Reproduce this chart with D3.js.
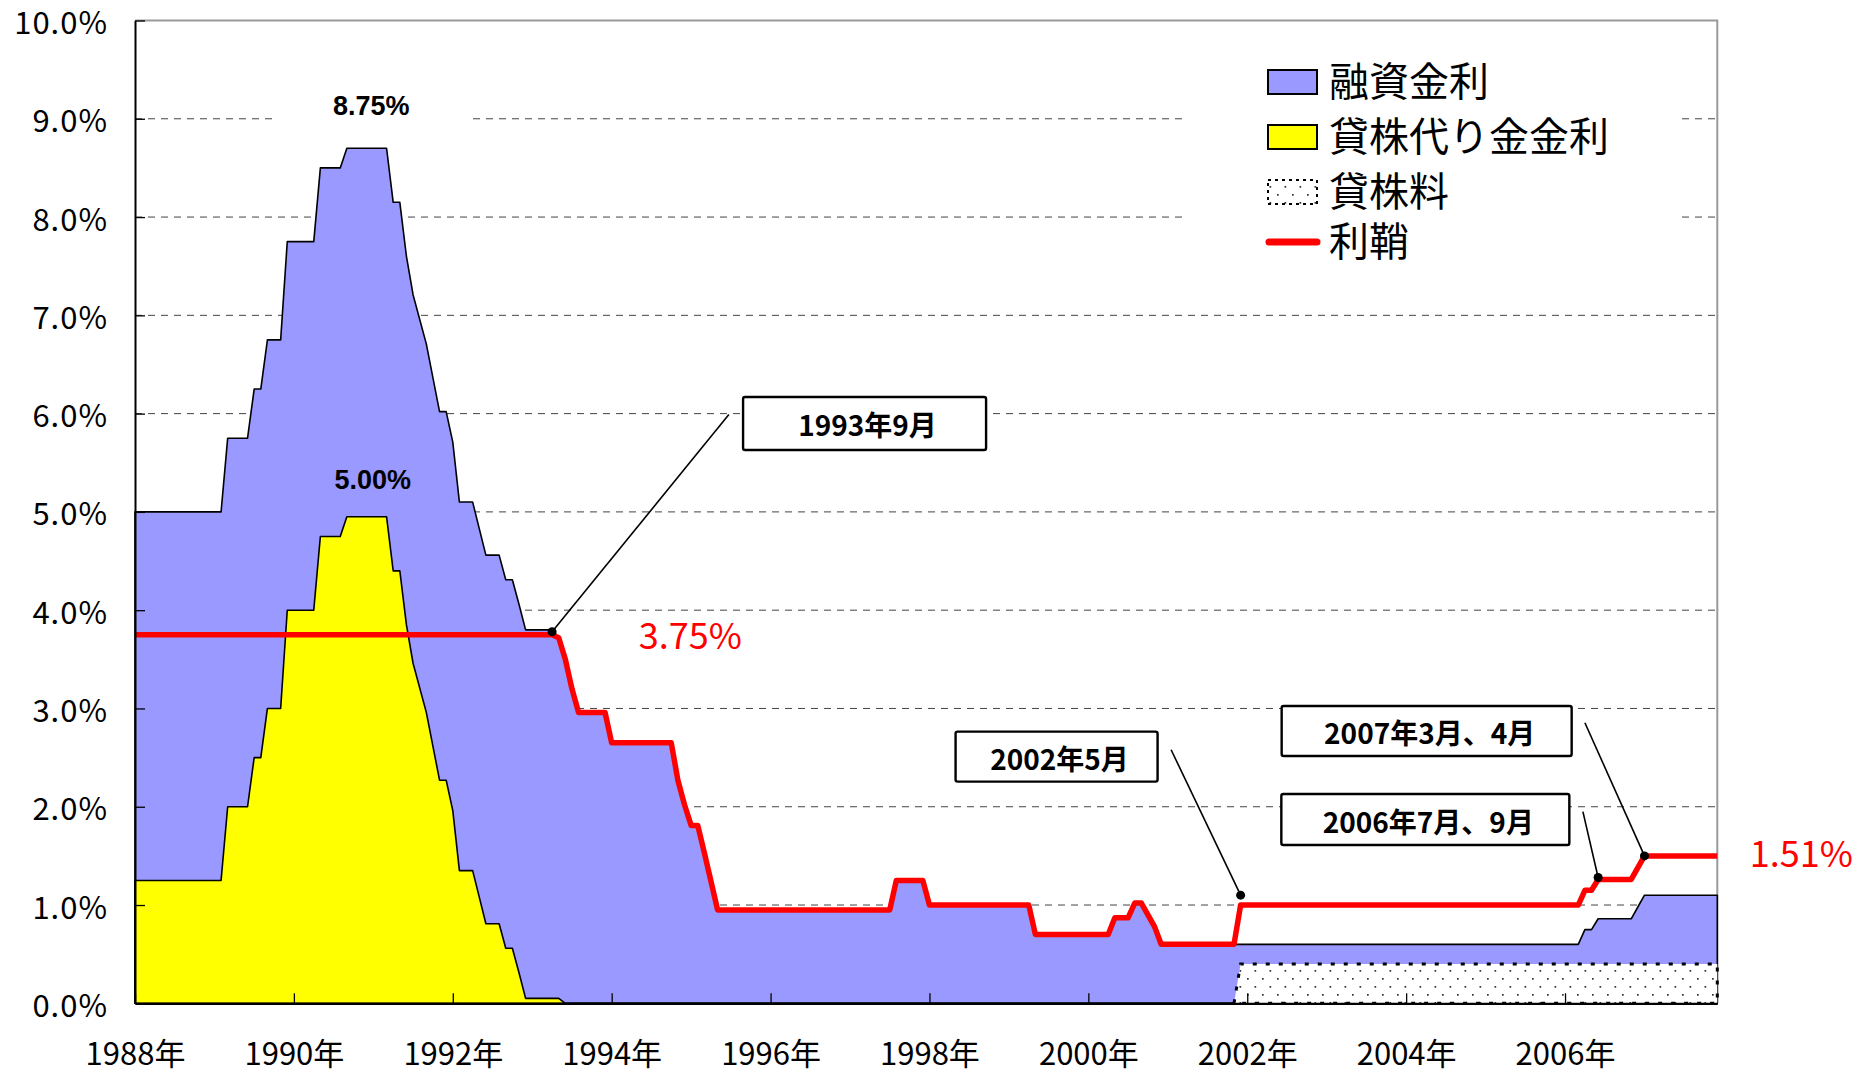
<!DOCTYPE html>
<html><head><meta charset="utf-8">
<script src="https://cdn.jsdelivr.net/npm/d3@7"></script>
<style>body{margin:0;background:#fff;} svg{display:block;}</style>
</head><body>
<svg id="chart" width="1858" height="1070"></svg>
<script>
// ---------------- data ----------------
const seriesNames = ["融資金利", "貸株代り金金利", "貸株料", "利鞘"];
const yearTickDates = ["1988-01","1990-01","1992-01","1994-01","1996-01","1998-01","2000-01","2002-01","2004-01","2006-01"];
const yearTickLabels = ["1988年","1990年","1992年","1994年","1996年","1998年","2000年","2002年","2004年","2006年"];
const yTicks = [0,1,2,3,4,5,6,7,8,9,10];

// 融資金利 (margin loan rate)
const loanDates = ["1988-01","1989-02","1989-03","1989-06","1989-07","1989-08","1989-09","1989-11","1989-12",
  "1990-04","1990-05","1990-08","1990-09","1991-03","1991-04","1991-05","1991-06","1991-07","1991-09",
  "1991-11","1991-12","1992-01","1992-02","1992-04","1992-05","1992-06","1992-08","1992-09","1992-10",
  "1992-11","1992-12","1993-04","1993-05","1993-06","1993-07","1993-08","1993-12","1994-01","1994-10",
  "1994-11","1994-12","1995-01","1995-02","1995-03","1995-04","1995-05","1997-07","1997-08","1997-12",
  "1998-01","1999-04","1999-05","2000-04","2000-05","2000-07","2000-08","2000-09","2000-11","2000-12",
  "2006-03","2006-04","2006-05","2006-06","2006-11","2006-12","2007-01","2007-12"];
const loanRates = [5.00,5.00,5.75,5.75,6.25,6.25,6.75,6.75,7.75,
  7.75,8.50,8.50,8.70,8.70,8.15,8.15,7.60,7.21,6.71,
  6.02,6.02,5.71,5.10,5.10,4.83,4.56,4.56,4.31,4.31,
  4.06,3.80,3.80,3.72,3.50,3.20,2.96,2.96,2.65,2.65,
  2.27,2.02,1.81,1.81,1.53,1.24,0.95,0.95,1.25,1.25,
  1.00,1.00,0.70,0.70,0.87,0.87,1.02,1.02,0.78,0.60,
  0.60,0.75,0.75,0.86,0.86,0.98,1.10,1.10];

// 貸株代り金金利 (interest on stock-loan proceeds)
const proceedsDates = ["1988-01","1989-02","1989-03","1989-06","1989-07","1989-08","1989-09","1989-11","1989-12",
  "1990-04","1990-05","1990-08","1990-09","1991-03","1991-04","1991-05","1991-06","1991-07","1991-09",
  "1991-11","1991-12","1992-01","1992-02","1992-04","1992-05","1992-06","1992-08","1992-09","1992-10",
  "1992-11","1992-12","1993-05","1993-06","2007-12"];
const proceedsRates = [1.25,1.25,2.00,2.00,2.50,2.50,3.00,3.00,4.00,
  4.00,4.75,4.75,4.95,4.95,4.40,4.40,3.85,3.46,2.96,
  2.27,2.27,1.96,1.35,1.35,1.08,0.81,0.81,0.56,0.56,
  0.31,0.05,0.05,0.00,0.00];

// 貸株料 (stock lending fee)
const feeDates = ["2001-11","2001-12","2007-12"];
const feeRates = [0.00,0.40,0.40];

// 利鞘 (spread)
const spreadDates = ["1988-01","1993-04","1993-05","1993-06","1993-07","1993-08","1993-12","1994-01","1994-10",
  "1994-11","1994-12","1995-01","1995-02","1995-03","1995-04","1995-05","1997-07","1997-08","1997-12",
  "1998-01","1999-04","1999-05","2000-04","2000-05","2000-07","2000-08","2000-09","2000-11","2000-12",
  "2001-11","2001-12","2006-03","2006-04","2006-05","2006-06","2006-11","2006-12","2007-01","2007-12"];
const spreadRates = [3.75,3.75,3.72,3.50,3.20,2.96,2.96,2.65,2.65,
  2.27,2.02,1.81,1.81,1.53,1.24,0.95,0.95,1.25,1.25,
  1.00,1.00,0.70,0.70,0.87,0.87,1.02,1.02,0.78,0.60,
  0.60,1.00,1.00,1.15,1.15,1.26,1.26,1.38,1.50,1.50];

// annotations
const calloutLabels = ["1993年9月","2002年5月","2006年7月、9月","2007年3月、4月"];
const calloutDates = ["1993-04","2001-12","2006-06","2007-01"];
const calloutValues = [3.78,1.10,1.28,1.50];
const valueLabels = ["8.75%","5.00%","3.75%","1.51%"];

// ---------------- helpers ----------------
const parseMonth = s => { const [yy, mm] = s.split("-").map(Number); return (yy - 1988) * 12 + (mm - 1); };
const toPts = (dates, vals) => dates.map((d, i) => ({ m: parseMonth(d), v: vals[i] }));
const JP = "'Noto Sans CJK JP','Noto Sans CJK SC',sans-serif";

const svg = d3.select("#chart");
const x = d3.scaleLinear().domain([0, 239]).range([135, 1717.3]);
const y = d3.scaleLinear().domain([0, 10]).range([1003.3, 20.5]);

// pattern for 貸株料
const defs = svg.append("defs");
const pat = defs.append("pattern").attr("id", "dots").attr("patternUnits", "userSpaceOnUse")
  .attr("width", 15).attr("height", 16);
pat.append("rect").attr("width", 15).attr("height", 16).attr("fill", "#fff");
pat.append("rect").attr("x", 2).attr("y", 2).attr("width", 1.7).attr("height", 1.7).attr("fill", "#333");
pat.append("rect").attr("x", 9.5).attr("y", 10).attr("width", 1.7).attr("height", 1.7).attr("fill", "#333");

// gridlines
svg.append("g").selectAll("line").data(yTicks.filter(t => t > 0 && t < 10)).join("line")
  .attr("x1", x(0)).attr("x2", x(239)).attr("y1", d => y(d)).attr("y2", d => y(d))
  .attr("stroke", "#444").attr("stroke-width", 1).attr("stroke-dasharray", "7,6");

// frame (top/right, gray)
svg.append("path")
  .attr("d", `M${x(0)},${y(10)}H${x(239)}V${y(0)}`)
  .attr("fill", "none").attr("stroke", "#999").attr("stroke-width", 2);

const area = d3.area().x(d => x(d.m)).y0(y(0)).y1(d => y(d.v));
const line = d3.line().x(d => x(d.m)).y(d => y(d.v));

// 融資金利 area
svg.append("path").datum(toPts(loanDates, loanRates)).attr("d", area)
  .attr("fill", "#9999FF").attr("stroke", "#000").attr("stroke-width", 1.6).attr("stroke-linejoin", "round");
// 貸株代り金金利 area
svg.append("path").datum(toPts(proceedsDates, proceedsRates)).attr("d", area)
  .attr("fill", "#FFFF00").attr("stroke", "#000").attr("stroke-width", 1.6).attr("stroke-linejoin", "round");
// 貸株料 area
svg.append("path").datum(toPts(feeDates, feeRates)).attr("d", area)
  .attr("fill", "url(#dots)").attr("stroke", "#000").attr("stroke-width", 3).attr("stroke-dasharray", "4,9");

// 利鞘 line
svg.append("path").datum(toPts(spreadDates, spreadRates)).attr("d", line)
  .attr("fill", "none").attr("stroke", "#FF0000").attr("stroke-width", 5.5).attr("stroke-linejoin", "round");

// axes
const yAxis = d3.axisLeft(y).tickValues(yTicks).tickSizeInner(-10).tickSizeOuter(0).tickPadding(27)
  .tickFormat(d => d.toFixed(1) + "%");
const gy = svg.append("g").attr("transform", `translate(${x(0)},0)`).call(yAxis);
gy.select(".domain").attr("stroke", "#000").attr("stroke-width", 2);
gy.selectAll(".tick line").attr("stroke", "#000").attr("stroke-width", 1.3);
gy.selectAll(".tick text").attr("font-family", JP).attr("font-size", 31).attr("fill", "#000")
  .attr("letter-spacing", 1).attr("dy", "0.42em");

const xAxis = d3.axisBottom(x).tickValues(yearTickDates.map(parseMonth)).tickSizeInner(-10).tickSizeOuter(0)
  .tickPadding(40).tickFormat((d, i) => yearTickLabels[i]);
const gx = svg.append("g").attr("transform", `translate(0,${y(0)})`).call(xAxis);
gx.select(".domain").attr("stroke", "#000").attr("stroke-width", 2.2);
gx.selectAll(".tick line").attr("stroke", "#000").attr("stroke-width", 1.3);
gx.selectAll(".tick text").attr("font-family", JP).attr("font-size", 31).attr("fill", "#000").attr("dy", "0.71em");

// peak labels (8.75% with white backing)
const pk1x = x(35.7), pk1y = y(9.04);
svg.append("rect").attr("x", pk1x - 97).attr("y", pk1y - 32).attr("width", 198).attr("height", 46).attr("fill", "#fff");
svg.append("text").attr("x", pk1x).attr("y", pk1y).attr("text-anchor", "middle")
  .attr("font-family", "'Liberation Sans',Arial,sans-serif").attr("font-weight", "bold").attr("font-size", 27)
  .text(valueLabels[0]);
svg.append("text").attr("x", x(35.9)).attr("y", y(5.23)).attr("text-anchor", "middle")
  .attr("font-family", "'Liberation Sans',Arial,sans-serif").attr("font-weight", "bold").attr("font-size", 27)
  .text(valueLabels[1]);

// red value labels
svg.append("text").attr("x", x(76.1)).attr("y", y(3.605)).attr("font-family", JP).attr("font-size", 36)
  .attr("fill", "#FF0000").text(valueLabels[2]);
svg.append("text").attr("x", x(243.9)).attr("y", y(1.39)).attr("font-family", JP).attr("font-size", 36)
  .attr("fill", "#FF0000").text(valueLabels[3]);

// legend
const lg = svg.append("g");
lg.append("rect").attr("x", 1188).attr("y", 40).attr("width", 489).attr("height", 242).attr("fill", "#fff");
const rowsY = [82, 137, 192, 242];
const swFill = ["#9999FF", "#FFFF00", "url(#dots)"];
swFill.forEach((f, i) => {
  lg.append("rect").attr("x", 1268).attr("y", rowsY[i] - 12).attr("width", 49).attr("height", 24)
    .attr("fill", f).attr("stroke", "#000").attr("stroke-width", 2)
    .attr("stroke-dasharray", i === 2 ? "3,4" : null);
});
lg.append("line").attr("x1", 1269).attr("x2", 1317).attr("y1", rowsY[3]).attr("y2", rowsY[3])
  .attr("stroke", "#FF0000").attr("stroke-width", 7).attr("stroke-linecap", "round");
seriesNames.forEach((n, i) => {
  lg.append("text").attr("x", 1329).attr("y", rowsY[i] + 14).attr("font-family", JP).attr("font-size", 40)
    .attr("fill", "#000").text(n);
});

// callouts
const boxes = [
  { cm: 110.2, cv: 5.90, w: 243, h: 53, lm: 89.7, lv: 5.99 },
  { cm: 139.2, cv: 2.51, w: 202, h: 50, lm: 156.5, lv: 2.58 },
  { cm: 194.9, cv: 1.87, w: 288, h: 51, lm: 218.7, lv: 1.95 },
  { cm: 195.1, cv: 2.77, w: 290, h: 50, lm: 219.0, lv: 2.855 }
];
const cg = svg.append("g");
calloutLabels.forEach((lab, i) => {
  const b = boxes[i];
  const px = x(parseMonth(calloutDates[i])), py = y(calloutValues[i]);
  cg.append("line").attr("x1", x(b.lm)).attr("y1", y(b.lv)).attr("x2", px).attr("y2", py)
    .attr("stroke", "#000").attr("stroke-width", 1.6);
  cg.append("circle").attr("cx", px).attr("cy", py).attr("r", 4.5).attr("fill", "#000");
  const bx = x(b.cm), by = y(b.cv);
  cg.append("rect").attr("x", bx - b.w / 2).attr("y", by - b.h / 2).attr("width", b.w).attr("height", b.h)
    .attr("rx", 2).attr("fill", "#fff").attr("stroke", "#000").attr("stroke-width", 2.4);
  cg.append("text").attr("x", bx + 3).attr("y", by + 13).attr("text-anchor", "middle")
    .attr("font-family", JP).attr("font-weight", "bold").attr("font-size", 28).attr("fill", "#000").text(lab);
});
</script>
</body></html>
